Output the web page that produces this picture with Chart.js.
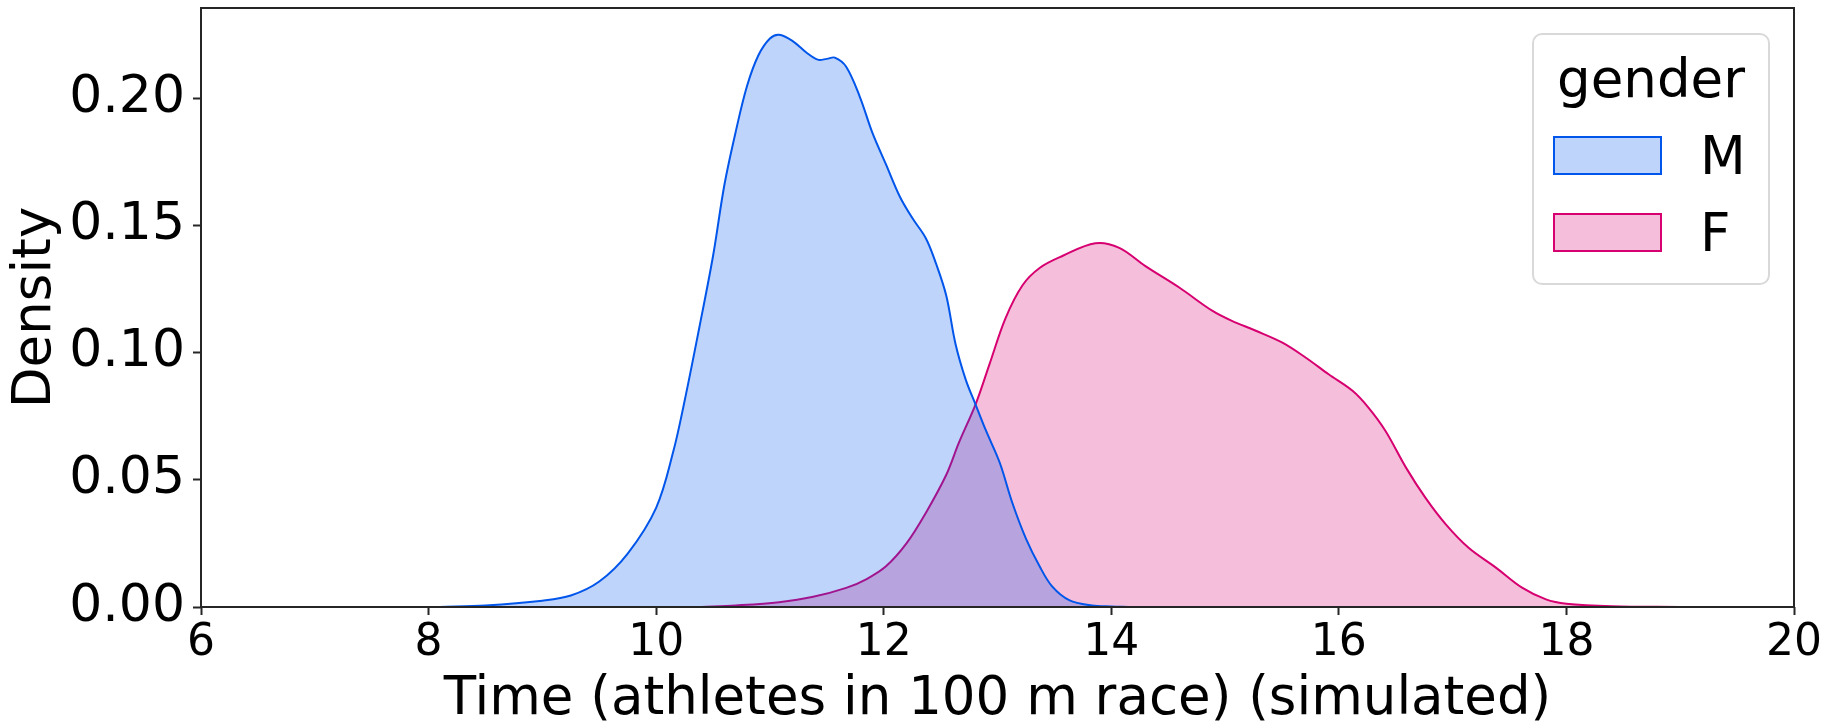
<!DOCTYPE html>
<html>
<head>
<meta charset="utf-8">
<script src="https://cdn.jsdelivr.net/npm/chart.js@4/dist/chart.umd.min.js"></script>
<style>
  html, body { margin: 0; padding: 0; background: #fff; }
  #wrap { width: 1841px; height: 721px; }
</style>
</head>
<body>
<div id="wrap"><canvas id="kde" width="1841" height="721"></canvas></div>
<script>
// density curves
var mTime    = [8.1, 8.5, 9.0, 9.25, 9.5, 9.75, 10.0, 10.15, 10.25, 10.38, 10.5, 10.6, 10.7, 10.8, 10.9, 11.0, 11.08, 11.2, 11.32, 11.42, 11.5, 11.57, 11.67, 11.79, 11.9, 12.02, 12.14, 12.25, 12.37, 12.46, 12.55, 12.63, 12.72, 12.81, 12.9, 13.02, 13.13, 13.25, 13.37, 13.48, 13.63, 13.83, 14.0, 14.15];
var mDensity = [0.0, 0.0006, 0.0025, 0.0045, 0.010, 0.021, 0.039, 0.061, 0.081, 0.110, 0.138, 0.166, 0.187, 0.205, 0.217, 0.2235, 0.225, 0.2225, 0.218, 0.2152, 0.2155, 0.216, 0.2124, 0.2006, 0.1865, 0.174, 0.1615, 0.153, 0.145, 0.135, 0.1224, 0.1036, 0.0895, 0.0793, 0.0692, 0.0567, 0.041, 0.0269, 0.016, 0.0081, 0.0027, 0.0006, 0.0002, 0.0];

var fTime    = [10.4, 10.7, 11.08, 11.38, 11.67, 11.85, 12.02, 12.2, 12.37, 12.55, 12.66, 12.81, 12.93, 13.07, 13.22, 13.37, 13.57, 13.86, 14.07, 14.3, 14.6, 14.89, 15.06, 15.27, 15.5, 15.71, 15.91, 16.12, 16.26, 16.41, 16.59, 16.76, 16.94, 17.14, 17.38, 17.61, 17.82, 18.0, 18.4, 19.0];
var fDensity = [0.0, 0.0006, 0.0019, 0.0040, 0.0075, 0.011, 0.016, 0.025, 0.037, 0.052, 0.0645, 0.080, 0.0955, 0.1135, 0.1265, 0.1333, 0.138, 0.143, 0.1412, 0.134, 0.1255, 0.1164, 0.1125, 0.1086, 0.104, 0.098, 0.0915, 0.085, 0.0784, 0.0692, 0.0548, 0.043, 0.0325, 0.0233, 0.0155, 0.0076, 0.003, 0.0013, 0.0003, 0.0];

var genders = ['M', 'F'];
var xTicks = [6, 8, 10, 12, 14, 16, 18, 20];
var yTicks = [0, 0.05, 0.10, 0.15, 0.20];

var lineColors = ['rgb(0, 85, 235)', 'rgb(214, 0, 112)'];
var fillColors = ['rgba(0, 85, 235, 0.25)', 'rgba(214, 0, 112, 0.25)'];

function toPoints(xs, ys) {
    return xs.map(function(x, i) { return { x: x, y: ys[i] }; });
}

Chart.defaults.font.family = '"DejaVu Sans", sans-serif';
Chart.defaults.color = '#000';

// box around the plot, like matplotlib spines
var frame = {
    id: 'frame',
    afterDatasetsDraw: function(chart) {
        var a = chart.chartArea, ctx = chart.ctx;
        ctx.save();
        ctx.strokeStyle = '#262626';
        ctx.lineWidth = 2;
        ctx.strokeRect(a.left, a.top, a.right - a.left, a.bottom - a.top);
        ctx.restore();
    }
};

// legend with a title, drawn inside the plot (top right)
var innerLegend = {
    id: 'innerLegend',
    afterDraw: function(chart) {
        var a = chart.chartArea, ctx = chart.ctx;
        var w = 236, h = 250;
        var bx = a.right - 25 - w, by = a.top + 26;
        ctx.save();
        ctx.beginPath();
        ctx.roundRect(bx, by, w, h, 9);
        ctx.fillStyle = 'rgba(255,255,255,0.8)';
        ctx.fill();
        ctx.strokeStyle = '#d9d9d9';
        ctx.lineWidth = 2;
        ctx.stroke();

        ctx.fillStyle = '#000';
        ctx.font = '53px "DejaVu Sans"';
        ctx.textAlign = 'center';
        ctx.textBaseline = 'alphabetic';
        ctx.fillText('gender', bx + w / 2, by + 63);

        ctx.textAlign = 'left';
        chart.data.datasets.forEach(function(ds, i) {
            var py = by + 103 + i * 77;
            ctx.fillStyle = ds.backgroundColor;
            ctx.fillRect(bx + 21, py, 107, 37);
            ctx.strokeStyle = ds.borderColor;
            ctx.lineWidth = 2;
            ctx.strokeRect(bx + 21, py, 107, 37);
            ctx.fillStyle = '#000';
            ctx.fillText(ds.label, bx + 167, py + 37);
        });
        ctx.restore();
    }
};

var ctx = document.getElementById('kde').getContext('2d');
var kdeChart = new Chart(ctx, {
    type: 'line',
    data: {
        datasets: [
            {
                label: genders[0],
                data: toPoints(mTime, mDensity),
                borderColor: lineColors[0],
                backgroundColor: fillColors[0],
                borderWidth: 2,
                fill: 'origin',
                pointRadius: 0,
                tension: 0.35
            },
            {
                label: genders[1],
                data: toPoints(fTime, fDensity),
                borderColor: lineColors[1],
                backgroundColor: fillColors[1],
                borderWidth: 2,
                fill: 'origin',
                pointRadius: 0,
                tension: 0.35
            }
        ]
    },
    options: {
        responsive: false,
        animation: false,
        layout: { padding: { top: 8, right: 47, left: 0, bottom: 0 } },
        plugins: {
            legend: { display: false },
            tooltip: { enabled: false }
        },
        scales: {
            x: {
                type: 'linear',
                min: 6,
                max: 20,
                afterBuildTicks: function(scale) {
                    scale.ticks = xTicks.map(function(v) { return { value: v }; });
                },
                afterFit: function(scale) {
                    scale.height = 114;
                },
                grid: {
                    drawOnChartArea: false,
                    drawTicks: true,
                    tickLength: 8,
                    tickWidth: 2,
                    tickColor: '#262626'
                },
                border: { display: false },
                ticks: {
                    font: { size: 44 },
                    padding: 2,
                    maxRotation: 0,
                    callback: function(v) { return String(v); }
                },
                title: {
                    display: true,
                    text: 'Time (athletes in 100 m race) (simulated)',
                    font: { size: 53, lineHeight: 0.8 },
                    padding: { top: 0, bottom: 0 }
                }
            },
            y: {
                min: 0,
                max: 0.2355,
                afterBuildTicks: function(scale) {
                    scale.ticks = yTicks.map(function(v) { return { value: v }; });
                },
                afterFit: function(scale) {
                    scale.width = 201;
                    scale.paddingTop = 0;
                    scale.paddingBottom = 0;
                },
                grid: {
                    drawOnChartArea: false,
                    drawTicks: true,
                    tickLength: 8,
                    tickWidth: 2,
                    tickColor: '#262626'
                },
                border: { display: false },
                ticks: {
                    font: { size: 52 },
                    padding: 8,
                    callback: function(v) { return v.toFixed(2); }
                },
                title: {
                    display: true,
                    text: 'Density',
                    font: { size: 53, lineHeight: 1 },
                    padding: { top: 10, bottom: 0 }
                }
            }
        }
    },
    plugins: [frame, innerLegend]
});
</script>
</body>
</html>
